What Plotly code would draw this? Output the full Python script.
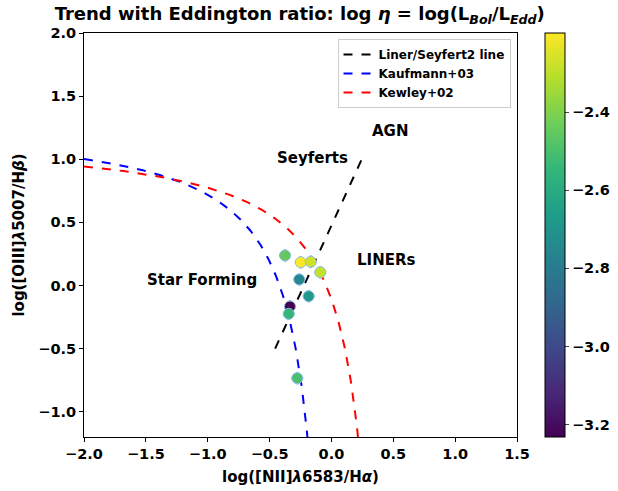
import numpy as np
import plotly.graph_objects as go

# Data points
nii_ha = [-0.375, -0.248, -0.167, -0.090, -0.260, -0.184, -0.335, -0.345, -0.276]
oiii_hb = [0.238, 0.184, 0.188, 0.105, 0.048, -0.085, -0.166, -0.224, -0.734]
log_eta = [-2.45, -2.20, -2.27, -2.29, -2.75, -2.68, -3.23, -2.55, -2.50]
x_err = [0.048, 0.048, 0.048, 0.048, 0.048, 0.048, 0.048, 0.048, 0.048]
y_err = [0.05, 0.05, 0.05, 0.05, 0.05, 0.05, 0.05, 0.05, 0.05]

cmin, cmax = -3.232, -2.197
cbar_ticks = [-3.2, -3.0, -2.8, -2.6, -2.4]
x_ticks = [-2.0, -1.5, -1.0, -0.5, 0.0, 0.5, 1.0, 1.5]
y_ticks = [-1.0, -0.5, 0.0, 0.5, 1.0, 1.5, 2.0]


def lab(v):
    return "<b>" + f"{v:.1f}".replace("-", "−") + "</b>"


# Demarcation lines
xk = np.linspace(-2.0, 0.049, 600)
yk = 0.61 / (xk - 0.05) + 1.3
mk = yk >= -1.25
xw = np.linspace(-2.0, 0.469, 600)
yw = 0.61 / (xw - 0.47) + 1.19
mw = yw >= -1.25
xl = np.array([-0.455, 0.247])
yl = 2.1432 * xl + 0.475

FONT = "DejaVu Sans"
TICK = 14.5

fig = go.Figure()
fig.add_trace(go.Scatter(x=xl, y=yl, mode="lines", name="<b>Liner/Seyfert2 line</b>",
                         line=dict(color="black", dash="dash", width=2)))
fig.add_trace(go.Scatter(x=xk[mk], y=yk[mk], mode="lines", name="<b>Kaufmann+03</b>",
                         line=dict(color="blue", dash="dash", width=2)))
fig.add_trace(go.Scatter(x=xw[mw], y=yw[mw], mode="lines", name="<b>Kewley+02</b>",
                         line=dict(color="red", dash="dash", width=2)))
fig.add_trace(go.Scatter(
    x=nii_ha, y=oiii_hb, mode="markers", showlegend=False,
    error_x=dict(type="data", array=x_err, color="#8fbde6", thickness=2.5, width=0),
    error_y=dict(type="data", array=y_err, color="#8fbde6", thickness=2.5, width=0),
    marker=dict(size=11, color=log_eta, colorscale="Viridis", cmin=cmin, cmax=cmax,
                line=dict(color="#8fbde6", width=1),
                showscale=True,
                colorbar=dict(x=1.0647, xanchor="left", y=0.5, yanchor="middle",
                              len=1, lenmode="fraction", thickness=20, outlinecolor="black",
                              outlinewidth=1, tickvals=cbar_ticks,
                              ticktext=[lab(v) for v in cbar_ticks],
                              ticks="outside", ticklen=4, xpad=0, ypad=0,
                              tickfont=dict(size=TICK, color="black", family=FONT))),
))

for txt, x, y in [("AGN", 0.47, 1.22), ("Seyferts", -0.15, 1.01),
                  ("LINERs", 0.44, 0.20), ("Star Forming", -1.05, 0.04)]:
    fig.add_annotation(x=x, y=y, text=f"<b>{txt}</b>", showarrow=False,
                       font=dict(size=15, color="black", family=FONT))

axis_common = dict(showgrid=False, zeroline=False, showline=True, linecolor="black",
                   linewidth=1, mirror=True, ticks="outside", ticklen=4,
                   tickcolor="black", tickfont=dict(size=TICK, color="black", family=FONT))
fig.update_xaxes(range=[-2.0, 1.5], tickvals=x_ticks, ticktext=[lab(v) for v in x_ticks],
                 title=dict(text="<b>log([NII]<i>λ</i>6583/H<i>α</i>)</b>", standoff=10,
                            font=dict(size=15, color="black", family=FONT)),
                 **axis_common)
fig.update_yaxes(range=[-1.2, 2.0], tickvals=y_ticks, ticktext=[lab(v) for v in y_ticks],
                 title=dict(text="<b>log([OIII]<i>λ</i>5007/H<i>β</i>)</b>", standoff=10,
                            font=dict(size=15, color="black", family=FONT)),
                 **axis_common)

fig.update_layout(
    width=618, height=491, plot_bgcolor="white", paper_bgcolor="white",
    margin=dict(l=84, r=101, t=33, b=54, autoexpand=False),
    title=dict(text="<b>Trend with Eddington ratio: log <i>η</i> = log(L<sub><i>Bol</i></sub>/L<sub><i>Edd</i></sub>)</b>",
               x=0.485, xanchor="center", y=0.985, yanchor="top",
               font=dict(size=18, color="black", family=FONT)),
    legend=dict(x=0.985, xanchor="right", y=0.985, yanchor="top", bgcolor="white",
                bordercolor="#cccccc", borderwidth=1,
                font=dict(size=12, color="black", family=FONT),
                itemwidth=30, tracegroupgap=0),
    font=dict(family=FONT),
)
fig.write_html("out.html")
